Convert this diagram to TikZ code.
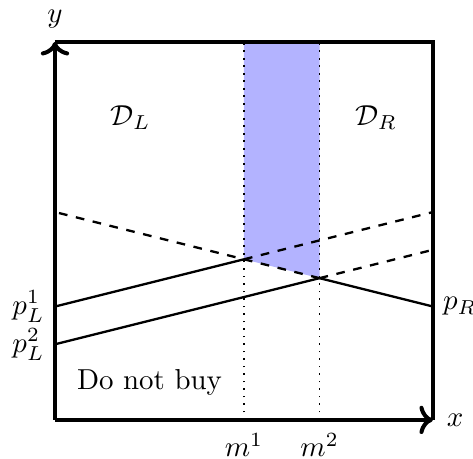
\documentclass[tikz,border=0pt]{standalone}
\usepackage{amsmath}
\usetikzlibrary{arrows.meta}
\definecolor{band}{HTML}{B3B3FF}

\begin{document}
\begin{tikzpicture}[x=0.46cm, y=0.46cm,
  axis/.style = {line width=1.4pt},
  axisarr/.style = {line width=1.4pt, ->},
  price/.style = {thick},
  pricedash/.style = {thick, dashed},
  cut/.style = {dotted, line width=0.6pt},
  lbl/.style = {font=\normalsize},
  plbl/.style = {font=\normalsize, inner sep=0.5pt},
]
\useasboundingbox (-1.455,-1.03) rectangle (11.06,11.11);
\coordinate (o) at (0,0);
\coordinate (xend) at (10,0);
\coordinate (yend) at (0,10);
\coordinate (tr) at (10,10);
\coordinate (m1top) at (5,10);
\coordinate (m2top) at (7,10);
\coordinate (m1bot) at (5,0);
\coordinate (m2bot) at (7,0);
\coordinate (pL1) at (0,3);
\coordinate (pL2) at (0,2);
\coordinate (pR) at (10,3);
\coordinate (k1) at (5,4.25);
\coordinate (k2) at (7,3.75);
\coordinate (e1) at (10,5.5);
\coordinate (e2) at (10,4.5);
\coordinate (e0) at (0,5.5);
\fill[band] (m1top) -- (m2top) -- (k2) -- (k1) -- cycle;
\draw[cut] (m1bot) -- (m1top);
\draw[cut] (m2bot) -- (m2top);
\draw[price] (pL1) -- (k1);
\draw[price] (pL2) -- (k2);
\draw[price] (k2) -- (pR);
\draw[pricedash] (k1) -- (e1);
\draw[pricedash] (k2) -- (e2);
\draw[pricedash] (k2) -- (e0);
\draw[axis] (yend) -- (tr) -- (xend);
\draw[axisarr] (o) -- (xend);
\draw[axisarr] (o) -- (yend);
\node[lbl, above] (ylab) at (0,10.1) {$y$};
\node[lbl, right] (xlab) at (10.1,0) {$x$};
\node[lbl, below=1pt] (m1lab) at (m1bot) {$m^1$};
\node[lbl, below=1pt] (m2lab) at (m2bot) {$m^2$};
\node[plbl, left=3pt] (pL1lab) at (pL1) {$p_L^1$};
\node[plbl, left=3pt] (pL2lab) at (pL2) {$p_L^2$};
\node[lbl, right] (pRlab) at (pR) {$p_R$};
\node[lbl] (DL) at (2,8) {$\mathcal{D}_L$};
\node[lbl] (DR) at (8.5,8) {$\mathcal{D}_R$};
\node[lbl] (nobuy) at (2.5,1) {Do not buy};
\end{tikzpicture}
\end{document}
